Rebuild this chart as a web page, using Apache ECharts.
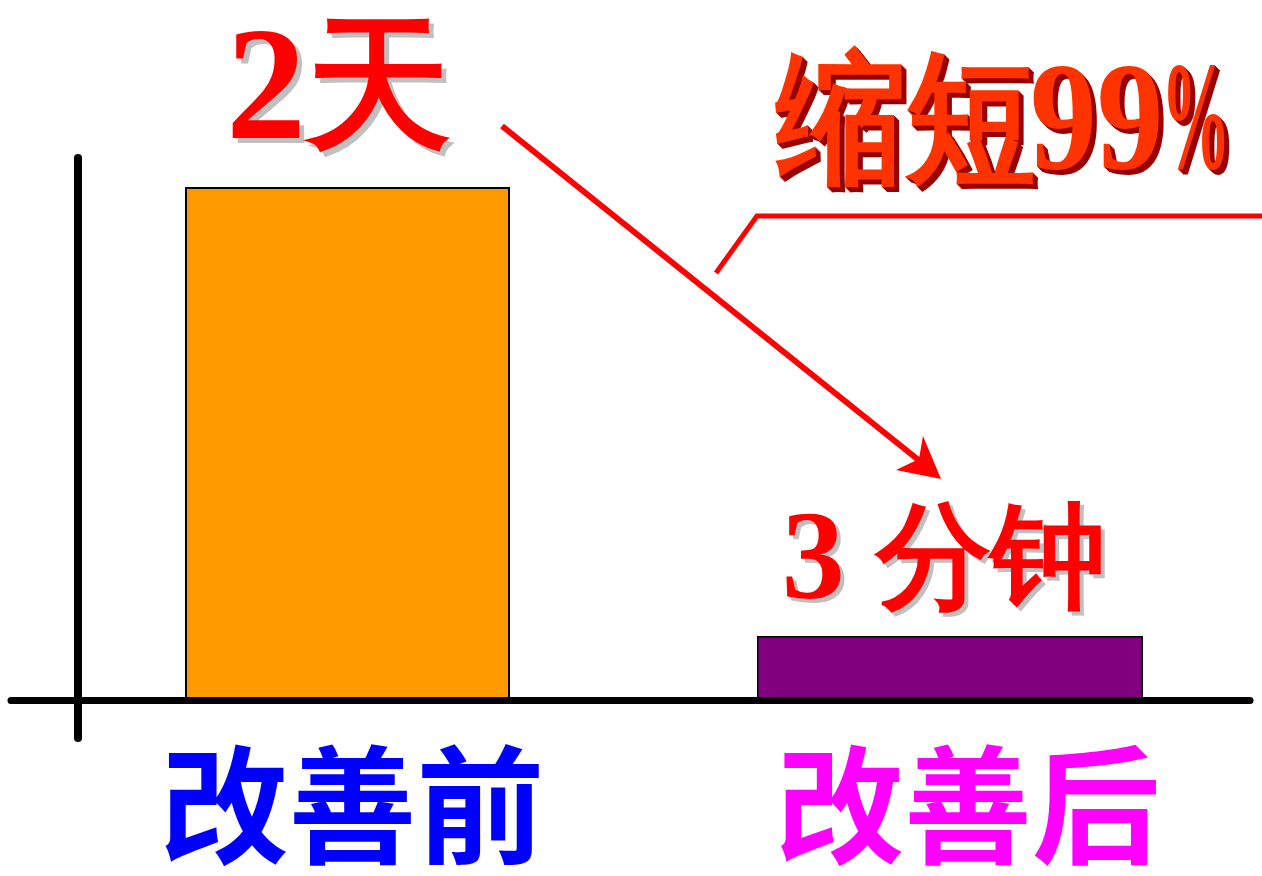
<!DOCTYPE html>
<html><head><meta charset="utf-8">
<script src="https://cdn.jsdelivr.net/npm/echarts@6/dist/echarts.min.js"></script>
<style>html,body{margin:0;padding:0;background:#fff}#c{width:1262px;height:876px}</style>
</head><body><div id="c"></div>
<script>
// ---- data ----
const categories = ['改善前', '改善后'];
const beforeValues = [100, '-'];
const afterValues = ['-', 12.5];
const valueLabels = ['2天', '3 分钟'];
const reductionWord = '缩短';
const reductionPct = '99%';
const yMin = -7.4, yMax = 105.65;

function toRich(s) {
  return s.replace(/([^\u4e00-\u9fff]+)|([\u4e00-\u9fff]+)/g,
    (m, a, b) => a ? '{n|' + a + '}' : '{c|' + b + '}');
}

const CJK = '"Noto Sans CJK SC"';
const SERIF = '"Liberation Serif"';

function barLabel(nSize, cSize, color, dist, off) {
  return {
    show: true, position: 'top', distance: dist, offset: off,
    formatter: p => toRich(valueLabels[p.dataIndex]),
    rich: {
      n: { fontFamily: SERIF, fontWeight: 'bold', fontSize: nSize, color: color },
      c: { fontFamily: SERIF, fontWeight: 'bold', fontSize: cSize, color: color }
    }
  };
}

const SH1 = 5, SH2 = 4;
const D1 = 10, D2 = 7;
const series = [
  // shadow copies (same data, transparent bars, grey labels)
  { type: 'bar', xAxisIndex: 1, yAxisIndex: 1, data: beforeValues, barWidth: 325, barGap: '-100%', z: 1, silent: true,
    itemStyle: { color: 'rgba(0,0,0,0)', borderWidth: 0 },
    label: barLabel(160, 145, '#C0C0C0', D1 - SH1, [-9 + SH1, 0]) },
  { type: 'bar', xAxisIndex: 1, yAxisIndex: 1, data: beforeValues, barWidth: 325, barGap: '-100%', z: 2,
    itemStyle: { color: '#FF9900', borderColor: '#000', borderWidth: 2 },
    label: barLabel(160, 145, '#FF0000', D1, [-9, 0]) },
  { type: 'bar', xAxisIndex: 2, yAxisIndex: 1, data: afterValues, barWidth: 386, barGap: '-100%', z: 1, silent: true,
    itemStyle: { color: 'rgba(0,0,0,0)', borderWidth: 0 },
    label: barLabel(126, 115, '#C0C0C0', D2 - SH2, [-6 + SH2, 0]) },
  { type: 'bar', xAxisIndex: 2, yAxisIndex: 1, data: afterValues, barWidth: 386, barGap: '-100%', z: 2,
    itemStyle: { color: '#800080', borderColor: '#000', borderWidth: 1.5 },
    label: barLabel(126, 115, '#FF0000', D2, [-6, 0]) }
];

// "缩短99%" annotation with dark-red extrusion
const titleParts = [
  { text: reductionWord, x: 776, y: 60, scaleX: 0.91, font: 'bold 143px ' + SERIF },
  { text: reductionPct.slice(0, 2), x: 1030, y: 50, scaleX: 0.86, font: 'bold 155px ' + SERIF },
  { text: reductionPct.slice(2), x: 1161, y: 50, scaleX: 0.45, font: 'bold 155px ' + SERIF }
];
const graphics = [
  { type: 'line', z: 50, shape: { x1: 502, y1: 126, x2: 921, y2: 462 },
    style: { stroke: '#FF0000', lineWidth: 6, lineCap: 'butt' } },
  { type: 'polygon', z: 50, shape: { points: [[941, 479], [896, 470], [919, 459], [923, 436]] },
    style: { fill: '#FF0000' } },
  { type: 'polyline', z: 50, shape: { points: [[716, 273], [757, 216], [1262, 216]] },
    style: { stroke: '#FF0000', lineWidth: 5, fill: null, lineJoin: 'miter' } }
];
titleParts.forEach(tp => {
  for (let k = 5; k >= 1; k--) {
    graphics.push({ type: 'text', z: 50, x: tp.x + k, y: tp.y + k, scaleX: tp.scaleX,
      style: { text: tp.text, font: tp.font, fill: '#990000', align: 'left', verticalAlign: 'top' } });
  }
  graphics.push({ type: 'text', z: 51, x: tp.x, y: tp.y, scaleX: tp.scaleX,
    style: { text: tp.text, font: tp.font, fill: '#FF3300', align: 'left', verticalAlign: 'top' } });
});

const chart = echarts.init(document.getElementById('c'), null, { renderer: 'canvas' });
const option = {
  backgroundColor: '#ffffff',
  animation: false,
  grid: [
    { left: 11, right: 12, top: 158, bottom: 138 },
    { left: 46.25, right: 10.75, top: 158, bottom: 138 }
  ],
  xAxis: [
    { gridIndex: 0, type: 'value', min: -67, max: 1172, z: 10,
      axisLine: { show: true, onZero: true, lineStyle: { color: '#000', width: 7 } },
      axisTick: { show: false }, axisLabel: { show: false }, splitLine: { show: false } },
    { gridIndex: 1, type: 'category', data: categories,
      axisLine: { show: false, onZero: false }, axisTick: { show: false }, splitLine: { show: false },
      axisLabel: {
        interval: 0, hideOverlap: false,
        margin: 3, fontSize: 128, fontWeight: 'bold', fontFamily: CJK, lineHeight: 128,
        formatter: (v, i) => '{c' + i + '|' + v + '}',
        rich: {
          c0: { color: '#0000FF', fontSize: 128, fontWeight: 'bold', fontFamily: CJK, lineHeight: 128, padding: [0, 0, 0, 10] },
          c1: { color: '#FF00FF', fontSize: 128, fontWeight: 'bold', fontFamily: CJK, lineHeight: 128, padding: [0, 0, 0, 36] }
        }
      } },
    { gridIndex: 1, type: 'category', data: categories, show: false }
  ],
  yAxis: [
    { gridIndex: 0, type: 'value', min: yMin, max: yMax, z: 10,
      axisLine: { show: true, onZero: true, lineStyle: { color: '#000', width: 8 } },
      axisTick: { show: false }, axisLabel: { show: false }, splitLine: { show: false } },
    { gridIndex: 1, type: 'value', min: yMin, max: yMax, show: false, splitLine: { show: false } }
  ],
  series: series,
  graphic: graphics
};
chart.setOption(option);
</script>
</body></html>
